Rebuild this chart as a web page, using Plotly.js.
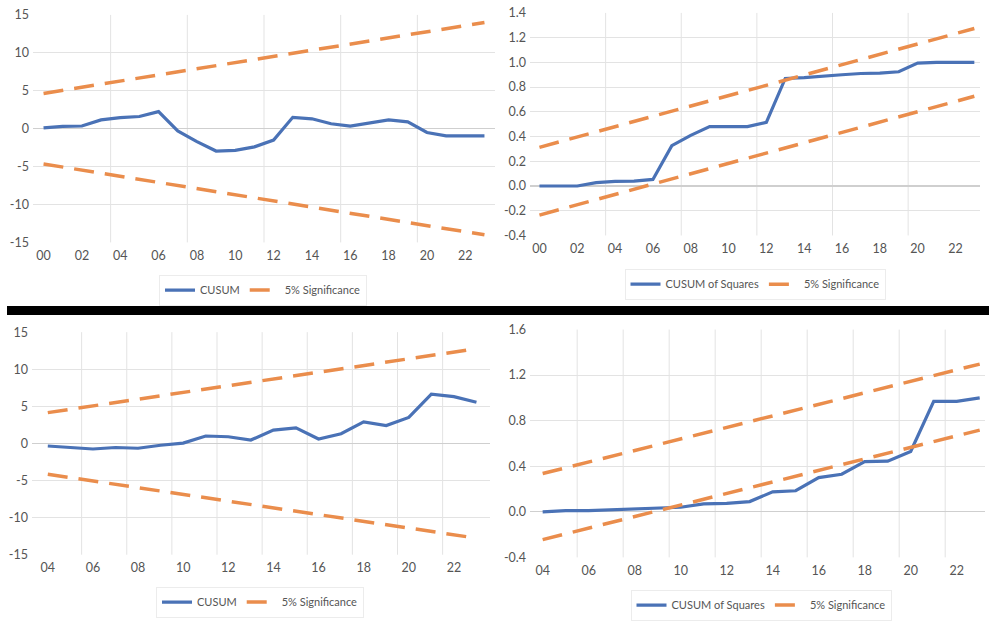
<!DOCTYPE html>
<html>
<head>
<meta charset="utf-8">
<script src="https://cdn.plot.ly/plotly-3.0.1.min.js"></script>
<style>html,body{margin:0;padding:0;background:#fff;}#chart{width:989px;height:621px;}</style>
</head>
<body>
<div id="chart"></div>
<script>
// ---------- DATA ----------
const yearsA = [2000,2001,2002,2003,2004,2005,2006,2007,2008,2009,2010,2011,2012,2013,2014,2015,2016,2017,2018,2019,2020,2021,2022,2023];
const yearsB = [2004,2005,2006,2007,2008,2009,2010,2011,2012,2013,2014,2015,2016,2017,2018,2019,2020,2021,2022,2023];

const xTickValsA = [2000,2002,2004,2006,2008,2010,2012,2014,2016,2018,2020,2022];
const xTickTextA = ['00','02','04','06','08','10','12','14','16','18','20','22'];
const xTickValsB = [2004,2006,2008,2010,2012,2014,2016,2018,2020,2022];
const xTickTextB = ['04','06','08','10','12','14','16','18','20','22'];

const yTickValsCusum = [-15,-10,-5,0,5,10,15];
const yTickTextCusum = ['-15','-10','-5','0','5','10','15'];
const yTickValsSqA = [-0.4,-0.2,0,0.2,0.4,0.6,0.8,1.0,1.2,1.4];
const yTickTextSqA = ['-0.4','-0.2','0.0','0.2','0.4','0.6','0.8','1.0','1.2','1.4'];
const yTickValsSqB = [-0.4,0,0.4,0.8,1.2,1.6];
const yTickTextSqB = ['-0.4','0.0','0.4','0.8','1.2','1.6'];

// Panel 1: CUSUM (2000-2023)
const cusumA = [0.1,0.3,0.35,1.15,1.45,1.6,2.25,-0.3,-1.7,-2.95,-2.85,-2.4,-1.5,1.5,1.3,0.65,0.35,0.8,1.15,0.9,-0.5,-0.95,-0.95,-0.95];
const cusumUpperA = [4.65,5.06,5.46,5.87,6.28,6.68,7.09,7.50,7.90,8.31,8.72,9.12,9.53,9.94,10.34,10.75,11.16,11.56,11.97,12.38,12.78,13.19,13.60,14.00];
const cusumLowerA = [-4.65,-5.06,-5.46,-5.87,-6.28,-6.68,-7.09,-7.50,-7.90,-8.31,-8.72,-9.12,-9.53,-9.94,-10.34,-10.75,-11.16,-11.56,-11.97,-12.38,-12.78,-13.19,-13.60,-14.00];

// Panel 2: CUSUM of Squares (2000-2023)
const sqA = [0,0,0,0.027,0.037,0.04,0.053,0.326,0.41,0.48,0.48,0.48,0.515,0.87,0.876,0.89,0.90,0.91,0.913,0.924,0.994,1.0,1.0,1.0];
const sqUpperA = [0.313,0.355,0.397,0.438,0.480,0.522,0.564,0.606,0.647,0.689,0.731,0.773,0.815,0.856,0.898,0.940,0.982,1.024,1.065,1.107,1.149,1.191,1.233,1.274];
const sqLowerA = [-0.235,-0.193,-0.151,-0.110,-0.068,-0.026,0.016,0.058,0.099,0.141,0.183,0.225,0.267,0.308,0.350,0.392,0.434,0.476,0.517,0.559,0.601,0.643,0.685,0.726];

// Panel 3: CUSUM (2004-2023)
const cusumB = [-0.35,-0.6,-0.75,-0.55,-0.65,-0.25,0.05,1.0,0.9,0.45,1.8,2.1,0.6,1.3,2.9,2.4,3.5,6.65,6.3,5.55];
const cusumUpperB = [4.15,4.60,5.06,5.51,5.96,6.42,6.87,7.33,7.78,8.23,8.69,9.14,9.59,10.05,10.50,10.96,11.41,11.86,12.32,12.77];
const cusumLowerB = [-4.15,-4.60,-5.06,-5.51,-5.96,-6.42,-6.87,-7.33,-7.78,-8.23,-8.69,-9.14,-9.59,-10.05,-10.50,-10.96,-11.41,-11.86,-12.32,-12.77];

// Panel 4: CUSUM of Squares (2004-2023)
const sqB = [0,0.01,0.01,0.018,0.02,0.03,0.04,0.07,0.075,0.09,0.175,0.185,0.3,0.33,0.44,0.445,0.53,0.97,0.97,1.0];
const sqUpperB = [0.336,0.387,0.437,0.488,0.538,0.589,0.640,0.690,0.741,0.791,0.842,0.893,0.943,0.994,1.044,1.095,1.146,1.196,1.247,1.297];
const sqLowerB = [-0.244,-0.193,-0.143,-0.092,-0.042,0.009,0.060,0.110,0.161,0.211,0.262,0.313,0.363,0.414,0.464,0.515,0.566,0.616,0.667,0.717];

const nameCusum = 'CUSUM';
const nameSq = 'CUSUM of Squares';
const nameSig = '5% Significance';

// ---------- STYLE / LAYOUT ----------
const W = 989, H = 621;
const BLUE = '#4A72B6', ORANGE = '#EA8D4C';
const GRID = '#E3E3E3', TXT = '#555555';
const FONT = 'Lato, "Open Sans", sans-serif';
const px = (a, b) => [a / W, b / W];
const py = (top, bottom) => [1 - bottom / H, 1 - top / H];

function mainTrace(x, y, name, xa, ya, lg) {
  return {x: x, y: y, name: name, type: 'scatter', mode: 'lines', xaxis: xa, yaxis: ya, legend: lg,
          line: {color: BLUE, width: 3.2}, hoverinfo: 'skip'};
}
function bandTrace(x, y, name, xa, ya, lg, show) {
  return {x: x, y: y, name: name, type: 'scatter', mode: 'lines', xaxis: xa, yaxis: ya, legend: lg,
          showlegend: show, line: {color: ORANGE, width: 3.5, dash: '20px,11px'}, hoverinfo: 'skip'};
}

const traces = [
  mainTrace(yearsA, cusumA, nameCusum, 'x', 'y', 'legend'),
  bandTrace(yearsA, cusumUpperA, nameSig, 'x', 'y', 'legend', true),
  bandTrace(yearsA, cusumLowerA, nameSig, 'x', 'y', 'legend', false),
  mainTrace(yearsA, sqA, nameSq, 'x2', 'y2', 'legend2'),
  bandTrace(yearsA, sqUpperA, nameSig, 'x2', 'y2', 'legend2', true),
  bandTrace(yearsA, sqLowerA, nameSig, 'x2', 'y2', 'legend2', false),
  mainTrace(yearsB, cusumB, nameCusum, 'x3', 'y3', 'legend3'),
  bandTrace(yearsB, cusumUpperB, nameSig, 'x3', 'y3', 'legend3', true),
  bandTrace(yearsB, cusumLowerB, nameSig, 'x3', 'y3', 'legend3', false),
  mainTrace(yearsB, sqB, nameSq, 'x4', 'y4', 'legend4'),
  bandTrace(yearsB, sqUpperB, nameSig, 'x4', 'y4', 'legend4', true),
  bandTrace(yearsB, sqLowerB, nameSig, 'x4', 'y4', 'legend4', false)
];

const tickFont = {family: FONT, size: 12.5, color: TXT};
function xAxis(domain, range, vals, text, anchor) {
  return {domain: domain, range: range, tickmode: 'array', tickvals: vals, ticktext: text,
          showgrid: false, zeroline: false, showline: false, ticks: '', tickfont: tickFont,
          anchor: anchor, fixedrange: true, ticklabelstandoff: 4};
}
function yAxis(domain, range, vals, text, anchor) {
  return {domain: domain, range: range, tickmode: 'array', tickvals: vals, ticktext: text,
          showgrid: true, gridcolor: GRID, gridwidth: 1, zeroline: true, zerolinecolor: '#CFCFCF',
          zerolinewidth: 1.3, showline: false, ticks: '', tickfont: tickFont, anchor: anchor,
          fixedrange: true, ticklabelstandoff: 3};
}

const legendBase = {orientation: 'h', xanchor: 'center', yanchor: 'middle', bgcolor: 'rgba(255,255,255,0)',
                    bordercolor: '#ECECEC', borderwidth: 1, font: {family: FONT, size: 11, color: TXT},
                    itemclick: false, itemdoubleclick: false, tracegroupgap: 0};

const shapes = [];
function vgrid(xref, yref, list) {
  list.forEach(v => shapes.push({type: 'line', xref: xref, yref: yref + ' domain', x0: v, x1: v, y0: 0, y1: 1,
                                 line: {color: GRID, width: 1}, layer: 'below'}));
}
vgrid('x', 'y', [2003.5, 2007.5, 2011.5, 2015.5, 2019.5]);
vgrid('x2', 'y2', [2003.5, 2007.5, 2011.5, 2015.5, 2019.5]);
vgrid('x3', 'y3', [2005.5, 2007.5, 2009.5, 2011.5, 2013.5, 2015.5, 2017.5, 2019.5, 2021.5]);
vgrid('x4', 'y4', [2005.5, 2007.5, 2009.5, 2011.5, 2013.5, 2015.5, 2017.5, 2019.5, 2021.5]);
// black separator bar
shapes.push({type: 'rect', xref: 'paper', yref: 'paper', x0: 7 / W, x1: 1, y0: 1 - 317 / H, y1: 1 - 308 / H,
             fillcolor: '#000', line: {width: 0}, layer: 'above'});

const layout = {
  width: W, height: H, margin: {l: 0, r: 0, t: 0, b: 0}, paper_bgcolor: '#fff', plot_bgcolor: 'rgba(0,0,0,0)',
  font: {family: FONT, color: TXT}, hovermode: false,
  xaxis: xAxis(px(33, 495), [1999.45, 2023.55], xTickValsA, xTickTextA, 'y'),
  yaxis: yAxis(py(15, 244), [-15, 15], yTickValsCusum, yTickTextCusum, 'x'),
  xaxis2: xAxis(px(530, 980), [1999.5, 2023.3], xTickValsA, xTickTextA, 'y2'),
  yaxis2: yAxis(py(13, 237), [-0.4, 1.4], yTickValsSqA, yTickTextSqA, 'x2'),
  xaxis3: xAxis(px(32, 490), [2003.3, 2023.6], xTickValsB, xTickTextB, 'y3'),
  yaxis3: yAxis(py(334.3, 558.3), [-15, 15], yTickValsCusum, yTickTextCusum, 'x3'),
  xaxis4: xAxis(px(530, 985), [2003.45, 2023.23], xTickValsB, xTickTextB, 'y4'),
  yaxis4: yAxis(py(331.7, 561), [-0.4, 1.6], yTickValsSqB, yTickTextSqB, 'x4'),
  legend: Object.assign({}, legendBase, {x: 263 / W, y: 1 - 292 / H}),
  legend2: Object.assign({}, legendBase, {x: 755 / W, y: 1 - 286 / H}),
  legend3: Object.assign({}, legendBase, {x: 260 / W, y: 1 - 606 / H}),
  legend4: Object.assign({}, legendBase, {x: 761 / W, y: 1 - 609 / H}),
  shapes: shapes
};

Plotly.newPlot('chart', traces, layout, {displayModeBar: false, staticPlot: true});
</script>
</body>
</html>
